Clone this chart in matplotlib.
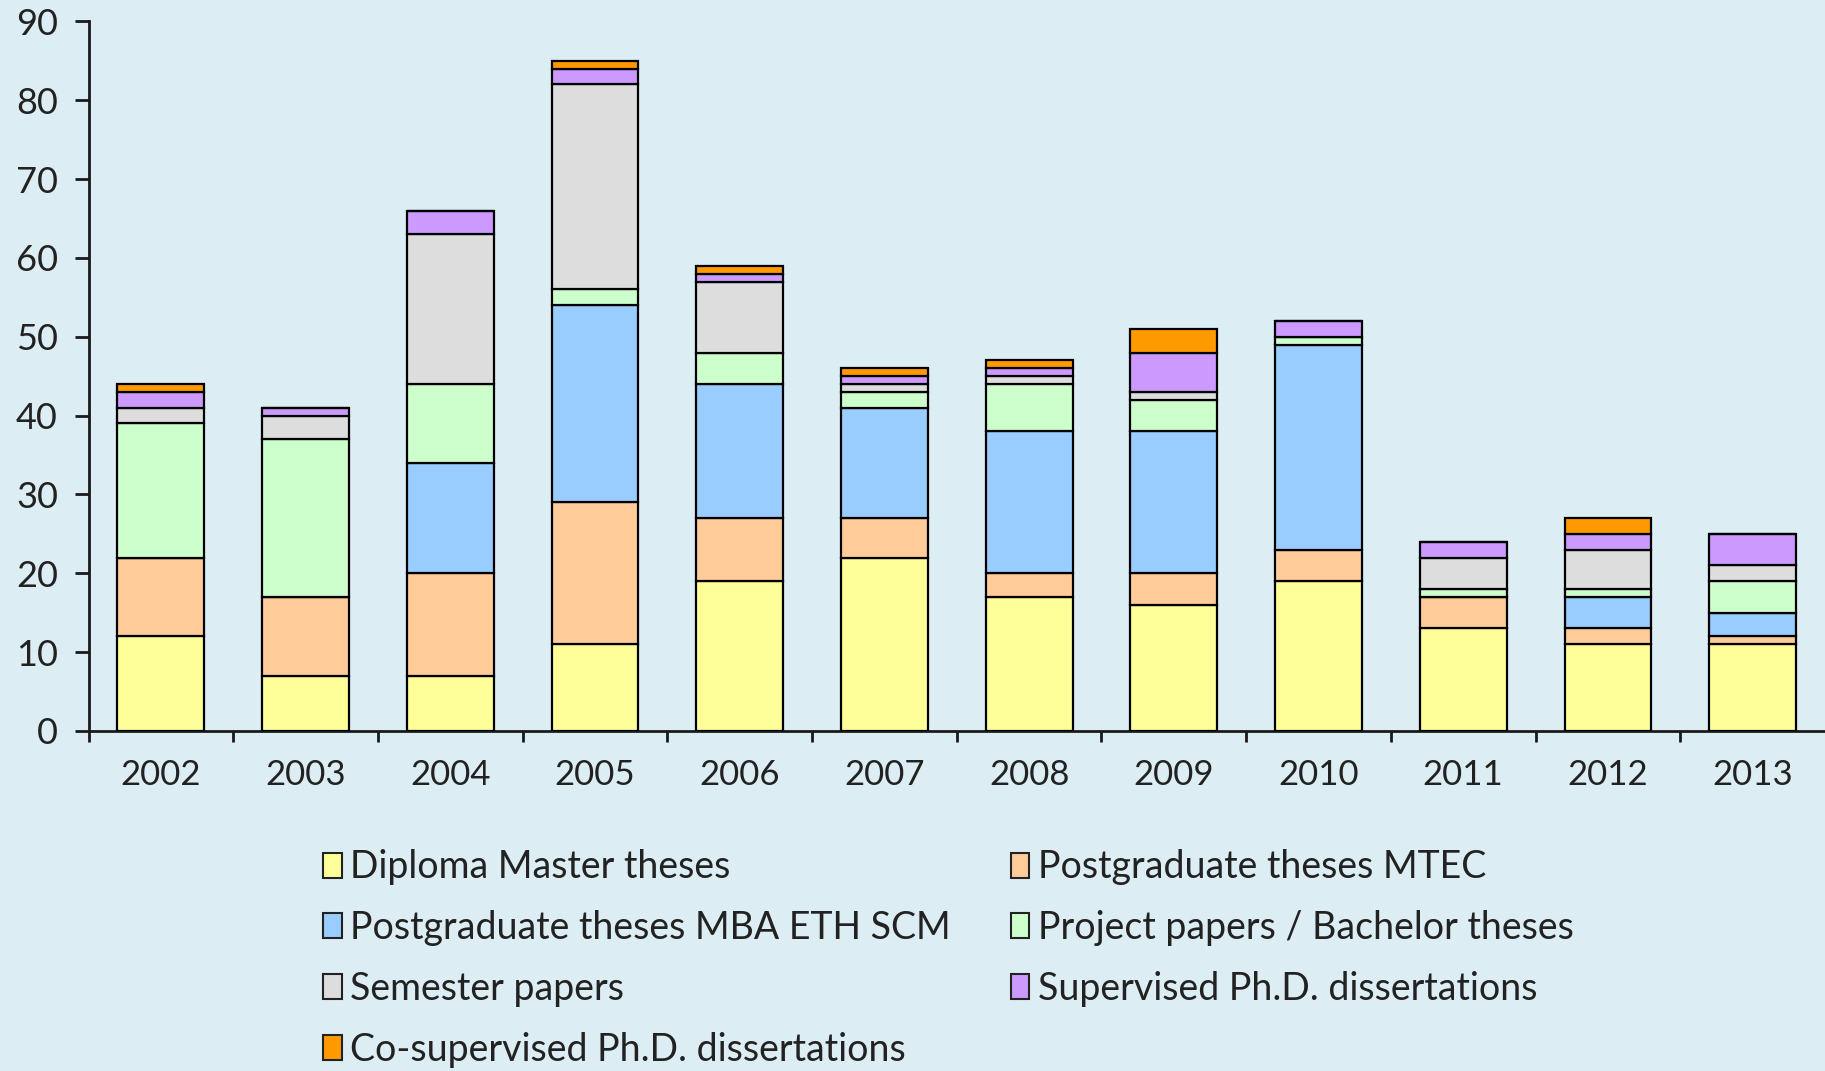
import matplotlib
matplotlib.use('Agg')
import matplotlib.pyplot as plt
from matplotlib.patches import Patch
import numpy as np

years = ['2002', '2003', '2004', '2005', '2006', '2007',
         '2008', '2009', '2010', '2011', '2012', '2013']

series_names = ['Diploma Master theses',
                'Postgraduate theses MTEC',
                'Postgraduate theses MBA ETH SCM',
                'Project papers / Bachelor theses',
                'Semester papers',
                'Supervised Ph.D. dissertations',
                'Co-supervised Ph.D. dissertations']

diploma    = [12, 7, 7, 11, 19, 22, 17, 16, 19, 13, 11, 11]
mtec       = [10, 10, 13, 18, 8, 5, 3, 4, 4, 4, 2, 1]
mba        = [0, 0, 14, 25, 17, 14, 18, 18, 26, 0, 4, 3]
project    = [17, 20, 10, 2, 4, 2, 6, 4, 1, 1, 1, 4]
semester   = [2, 3, 19, 26, 9, 1, 1, 1, 0, 4, 5, 2]
supervised = [2, 1, 3, 2, 1, 1, 1, 5, 2, 2, 2, 4]
cosuper    = [1, 0, 0, 1, 1, 1, 1, 3, 0, 0, 2, 0]

colors = ['#FFFF99', '#FFCC99', '#99CCFF', '#CCFFCC',
          '#DDDDDD', '#CC99FF', '#FF9900']

bg = '#DCEEF4'
txt = '#222222'

plt.rcParams['font.family'] = ['Lato', 'DejaVu Sans']

fig = plt.figure(figsize=(18.25, 10.71), dpi=100, facecolor=bg)
ax = fig.add_axes([0.0485, 0.3175, 0.9515, 0.6625])
ax.set_facecolor(bg)

x = np.arange(len(years))
bottom = np.zeros(len(years))
for vals, name, col in zip([diploma, mtec, mba, project, semester, supervised, cosuper],
                           series_names, colors):
    v = np.array(vals, dtype=float)
    ax.bar(x, v, width=0.6, bottom=bottom, color=col, edgecolor='black',
           linewidth=1.6, label=name, zorder=3)
    bottom += v

ax.set_xlim(-0.5, len(years) - 0.5)
ax.set_ylim(0, 90)

for s in ['top', 'right']:
    ax.spines[s].set_visible(False)
for s in ['left', 'bottom']:
    ax.spines[s].set_linewidth(2)
    ax.spines[s].set_color('#1a1a1a')

ax.set_yticks(np.arange(0, 91, 10))
ax.tick_params(axis='y', direction='out', length=10, width=2, pad=12,
               labelsize=26, labelcolor=txt, color='#1a1a1a')

ax.set_xticks(np.arange(-0.5, len(years) - 0.5, 1.0))
ax.set_xticklabels([])
ax.tick_params(axis='x', which='major', direction='out', length=8, width=2,
               color='#1a1a1a')
ax.set_xticks(x, minor=True)
ax.set_xticklabels(years, minor=True)
ax.tick_params(axis='x', which='minor', length=0, pad=20, labelsize=25,
               labelcolor=txt)

# legend: fill row-wise in two columns
handles = [Patch(facecolor=c, edgecolor='#222222', linewidth=1.5) for c in colors]
order = [0, 2, 4, 6, 1, 3, 5]
leg = fig.legend([handles[i] for i in order], [series_names[i] for i in order],
                 ncol=2, loc='upper left', bbox_to_anchor=(0.177, 0.207),
                 frameon=False, fontsize=27, handlelength=0.5, handleheight=0.65,
                 handletextpad=0.22, columnspacing=1.6, labelspacing=0.66,
                 borderaxespad=0, borderpad=0)
for t in leg.get_texts():
    t.set_color(txt)

fig.savefig('out.png', dpi=100, facecolor=bg)
